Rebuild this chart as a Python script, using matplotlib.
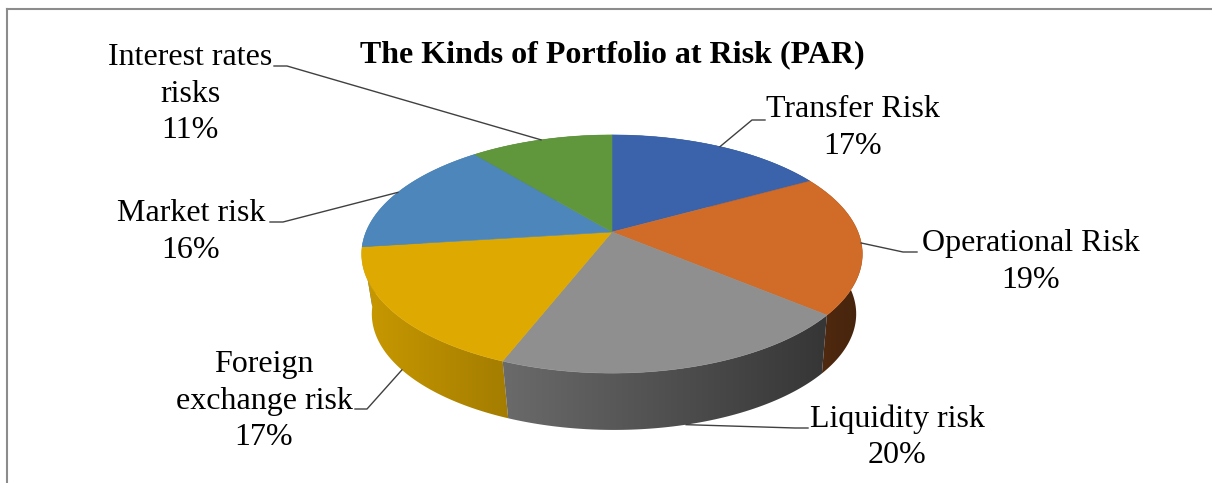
"""
Three-dimensional style pie: kinds of Portfolio at Risk (PAR)
"""

import matplotlib
matplotlib.use("Agg")
import matplotlib.pyplot as plt
import numpy as np
from matplotlib.patches import Polygon
from matplotlib.lines import Line2D

# ---- data -------------------------------------------------------------
labels = ["Transfer Risk", "Operational Risk", "Liquidity risk",
          "Foreign\nexchange risk", "Market risk", "Interest rates\nrisks"]
shares = [17, 19, 20, 17, 16, 11]
colors = ["#3A63AB", "#D06B28", "#8F8F8F", "#DEA900", "#4C86BA", "#60963C"]
title = "The Kinds of Portfolio at Risk (PAR)"

# ---- layout (pixels, y pointing down) ---------------------------------
W, H = 1212, 483
label_pos = [(853, 128), (1031, 262), (897, 437), (264, 401), (191, 232), (190, 94)]
elbows = [[(752, 120), (765, 120)],
          [(903, 252), (917, 252)],
          [(795, 428), (808, 428)],
          [(367, 409), (355, 409)],
          [(283, 222), (270, 222)],
          [(287, 66), (274, 66)]]

# perspective ellipse parameters for top and bottom faces
CX_TOP, CY_TOP, A_TOP, B_TOP = 612, 232, 246, 115
CX_BOT, CY_BOT, A_BOT, B_BOT = 614, 292.5, 238, 112
K = 0.185
FONT = "Liberation Serif"


def rim(theta, top=True):
    """Point on the rim; theta clockwise from 12 o'clock."""
    u, v = np.sin(theta), np.cos(theta)
    w = 1 + K * v
    if top:
        return CX_TOP + A_TOP * u / w, CY_TOP - B_TOP * v / w
    return CX_BOT + A_BOT * u / w, CY_BOT - B_BOT * v / w


fig = plt.figure(figsize=(W / 100, H / 100), dpi=100)
ax = fig.add_axes([0, 0, 1, 1])

fracs = np.array(shares, dtype=float) / sum(shares)
bounds = np.concatenate([[0], np.cumsum(fracs)]) * 2 * np.pi
mids = 0.5 * (bounds[:-1] + bounds[1:])

# side wall: one polygon per slice (back ones first), shaded left to right
gx = np.linspace(CX_TOP - A_TOP - 10, CX_TOP + A_TOP + 10, 600)
shade_f = 0.62 - 0.28 * np.clip((gx - CX_TOP) / A_TOP, -1, 1)
for i in np.argsort(-np.cos(mids)):
    th = np.linspace(bounds[i], bounds[i + 1], 200)
    pts = [rim(t) for t in th] + [rim(t, False) for t in th[::-1]]
    poly = Polygon(pts, closed=True, facecolor="none", edgecolor="none")
    ax.add_patch(poly)
    rgb = np.array(matplotlib.colors.to_rgb(colors[i]))
    grad = np.clip(shade_f[None, :, None] * rgb[None, None, :], 0, 1)
    im = ax.imshow(grad, extent=[gx[0], gx[-1], 440, 120], aspect="auto",
                   interpolation="bilinear", zorder=1 + 0.01 * len(ax.images))
    im.set_clip_path(poly)

# top faces
for i, c in enumerate(colors):
    th = np.linspace(bounds[i], bounds[i + 1], 200)
    pts = [(CX_TOP, CY_TOP)] + [rim(t) for t in th]
    ax.add_patch(Polygon(pts, closed=True, facecolor=c, edgecolor=c,
                         lw=0.4, zorder=2))

# labels and leader lines
for i, (lab, s) in enumerate(zip(labels, shares)):
    anchor = rim(mids[i], top=np.cos(mids[i]) > -0.5)
    xs, ys = zip(*([anchor] + elbows[i]))
    ax.plot(xs, ys, color="#404040", lw=1, zorder=3)
    ax.text(*label_pos[i], f"{lab}\n{s}%", ha="center", va="center",
            multialignment="center", fontsize=23, family=FONT,
            linespacing=1.33, zorder=4)

ax.text(612, 55, title, ha="center", va="center", fontsize=23,
        fontweight="bold", family=FONT)

ax.set_xlim(0, W)
ax.set_ylim(H, 0)
ax.axis("off")

# chart area frame (only top and left edges visible)
fig.add_artist(Line2D([7 / W, 1], [1 - 9 / H, 1 - 9 / H],
                      color="#8c8c8c", lw=1.5))
fig.add_artist(Line2D([7 / W, 7 / W], [0, 1 - 9 / H],
                      color="#8c8c8c", lw=1.5))

plt.savefig("out.png", dpi=100)
plt.close()
